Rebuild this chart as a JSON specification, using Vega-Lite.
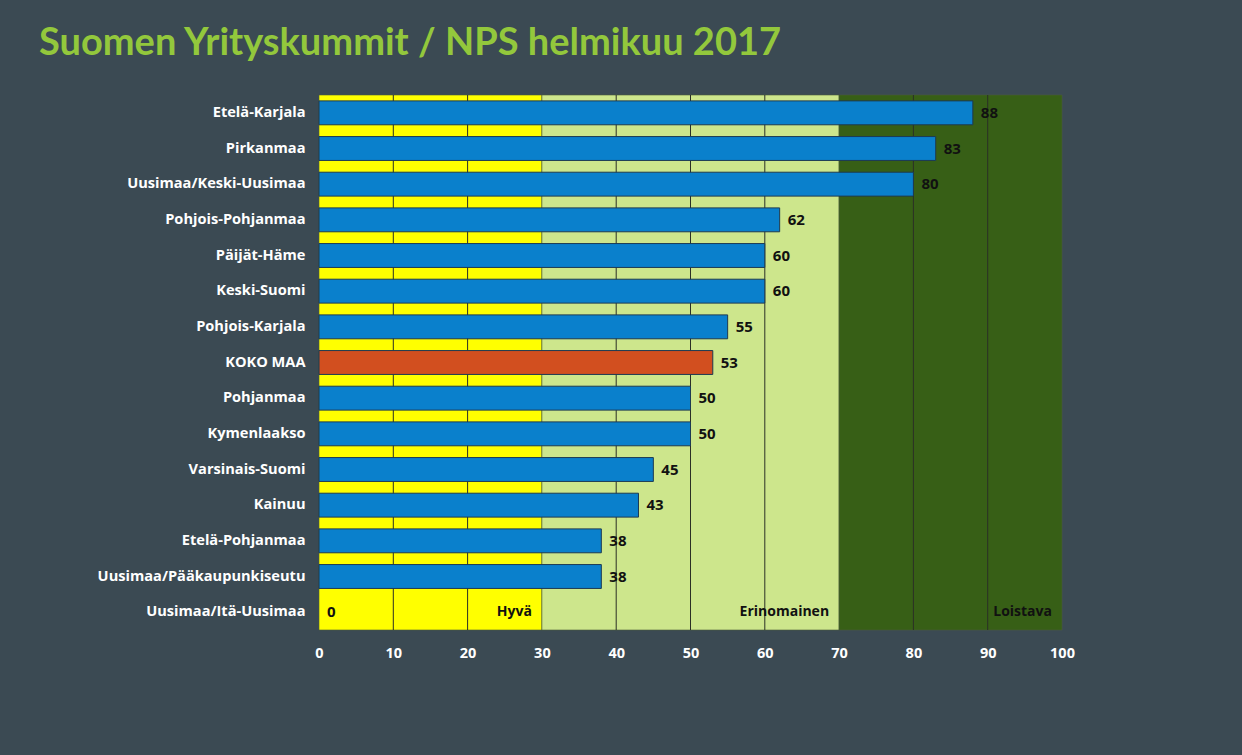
{
  "$schema": "https://vega.github.io/schema/vega-lite/v6.json",
  "autosize": "none",
  "width": 743,
  "height": 535,
  "padding": {"left": 319, "top": 95, "right": 180, "bottom": 125},
  "background": "#3b4a53",
  "title": {
    "text": "Suomen Yrityskummit / NPS helmikuu 2017",
    "anchor": "start",
    "frame": "group",
    "dx": -280,
    "offset": 32,
    "font": "Lato",
    "fontSize": 38,
    "fontWeight": "bold",
    "color": "#93c83c"
  },
  "config": {
    "view": {"stroke": null},
    "font": "Open Sans"
  },
  "resolve": {"scale": {"color": "independent"}},
  "datasets": {
    "nps": [
      {"alue": "Etelä-Karjala", "nps": 88, "tyyppi": "alue"},
      {"alue": "Pirkanmaa", "nps": 83, "tyyppi": "alue"},
      {"alue": "Uusimaa/Keski-Uusimaa", "nps": 80, "tyyppi": "alue"},
      {"alue": "Pohjois-Pohjanmaa", "nps": 62, "tyyppi": "alue"},
      {"alue": "Päijät-Häme", "nps": 60, "tyyppi": "alue"},
      {"alue": "Keski-Suomi", "nps": 60, "tyyppi": "alue"},
      {"alue": "Pohjois-Karjala", "nps": 55, "tyyppi": "alue"},
      {"alue": "KOKO MAA", "nps": 53, "tyyppi": "koko"},
      {"alue": "Pohjanmaa", "nps": 50, "tyyppi": "alue"},
      {"alue": "Kymenlaakso", "nps": 50, "tyyppi": "alue"},
      {"alue": "Varsinais-Suomi", "nps": 45, "tyyppi": "alue"},
      {"alue": "Kainuu", "nps": 43, "tyyppi": "alue"},
      {"alue": "Etelä-Pohjanmaa", "nps": 38, "tyyppi": "alue"},
      {"alue": "Uusimaa/Pääkaupunkiseutu", "nps": 38, "tyyppi": "alue"},
      {"alue": "Uusimaa/Itä-Uusimaa", "nps": 0, "tyyppi": "alue"}
    ],
    "bands": [
      {"luokka": "Hyvä", "alku": 0, "loppu": 30},
      {"luokka": "Erinomainen", "alku": 30, "loppu": 70},
      {"luokka": "Loistava", "alku": 70, "loppu": 100}
    ],
    "grid": [
      {"x": 10}, {"x": 20}, {"x": 40}, {"x": 50}, {"x": 60}, {"x": 80}, {"x": 90}
    ]
  },
  "layer": [
    {
      "data": {"name": "bands"},
      "mark": {"type": "rect", "stroke": "#4a5a3a", "strokeWidth": 0.6},
      "encoding": {
        "x": {
          "field": "alku", "type": "quantitative",
          "scale": {"domain": [0, 100], "nice": false},
          "axis": {
            "values": [0, 10, 20, 30, 40, 50, 60, 70, 80, 90, 100],
            "title": null, "grid": false, "domain": false, "ticks": false,
            "labelFlush": false,
            "labelColor": "#ffffff", "labelFont": "Open Sans", "labelFontSize": 14.5,
            "labelFontWeight": "bold", "labelPadding": 16
          }
        },
        "x2": {"field": "loppu"},
        "color": {
          "field": "luokka", "type": "nominal",
          "scale": {"domain": ["Hyvä", "Erinomainen", "Loistava"], "range": ["#ffff00", "#cde68c", "#375f16"]},
          "legend": null
        }
      }
    },
    {
      "data": {"name": "grid"},
      "mark": {"type": "rule", "color": "#2b2f25", "strokeWidth": 1},
      "encoding": {"x": {"field": "x", "type": "quantitative"}}
    },
    {
      "data": {"name": "nps"},
      "transform": [{"filter": "datum.nps > 0"}],
      "mark": {"type": "bar", "stroke": "#1d3a52", "strokeWidth": 1},
      "encoding": {
        "y": {
          "field": "alue", "type": "nominal", "sort": null,
          "scale": {"paddingInner": 0.33, "paddingOuter": 0.165},
          "axis": {
            "title": null, "domain": false, "ticks": false,
            "labelColor": "#ffffff", "labelFont": "Open Sans", "labelFontSize": 14.6,
            "labelFontWeight": "bold", "labelPadding": 14, "labelLimit": 300
          }
        },
        "x": {"field": "nps", "type": "quantitative"},
        "color": {
          "field": "tyyppi", "type": "nominal",
          "scale": {"domain": ["alue", "koko"], "range": ["#0a80cc", "#d24f1f"]},
          "legend": null
        }
      }
    },
    {
      "data": {"name": "nps"},
      "mark": {"type": "text", "align": "left", "dx": 8, "font": "Open Sans", "fontSize": 15, "fontWeight": "bold", "color": "#111111"},
      "encoding": {
        "y": {"field": "alue", "type": "nominal", "sort": null},
        "x": {"field": "nps", "type": "quantitative"},
        "text": {"field": "nps", "type": "quantitative"}
      }
    },
    {
      "data": {"name": "bands"},
      "mark": {"type": "text", "align": "right", "dx": -10, "font": "Open Sans", "fontSize": 14, "fontWeight": "bold", "color": "#111111"},
      "encoding": {
        "y": {"datum": "Uusimaa/Itä-Uusimaa", "type": "nominal"},
        "x": {"field": "loppu", "type": "quantitative"},
        "text": {"field": "luokka", "type": "nominal"}
      }
    }
  ]
}
